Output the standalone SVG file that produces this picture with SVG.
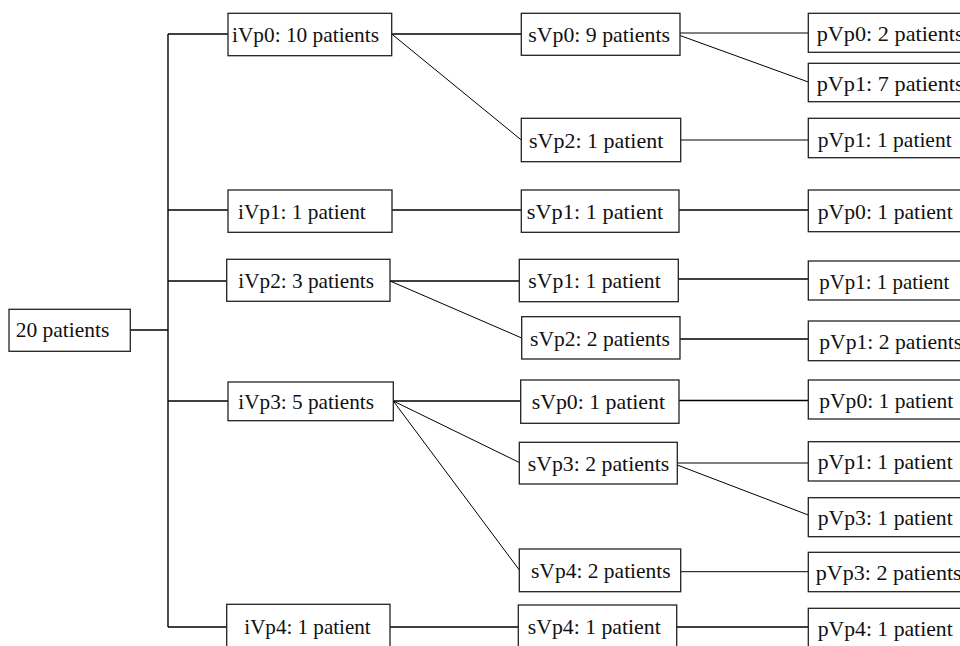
<svg xmlns="http://www.w3.org/2000/svg" width="960" height="646" viewBox="0 0 960 646">
<style>
.box{fill:#fff;stroke:#222;stroke-width:1.3}
.t{font-family:"Liberation Serif","Times New Roman",serif;font-size:22px;fill:#111}
#connectors line{stroke:#000;stroke-width:1.4;fill:none}
#connectors .d{stroke-width:1}
</style>
<rect width="960" height="646" fill="#fff"/>
<g id="connectors">
<line x1="130.3" y1="330" x2="168" y2="330"/>
<line x1="168" y1="34" x2="168" y2="627"/>
<line x1="168" y1="34" x2="228" y2="34"/>
<line x1="168" y1="210" x2="228" y2="210"/>
<line x1="168" y1="281" x2="226.7" y2="281"/>
<line x1="168" y1="401" x2="228" y2="401"/>
<line x1="168" y1="627" x2="226.7" y2="627"/>
<line x1="391.7" y1="34" x2="521.3" y2="34"/>
<line class="d" x1="391.7" y1="34" x2="521.3" y2="140"/>
<line x1="392" y1="210" x2="521.3" y2="210"/>
<line x1="390" y1="281" x2="519.3" y2="281"/>
<line class="d" x1="390" y1="281" x2="521.7" y2="338"/>
<line x1="393.3" y1="401" x2="520.7" y2="401"/>
<line class="d" x1="393.3" y1="401" x2="519.3" y2="462.5"/>
<line class="d" x1="393.3" y1="401" x2="519.3" y2="570"/>
<line x1="390" y1="627" x2="518.3" y2="627"/>
<line class="d" x1="680" y1="33" x2="808.3" y2="33"/>
<line class="d" x1="680" y1="35.5" x2="808.3" y2="82"/>
<line class="d" x1="680.7" y1="140" x2="808.3" y2="140"/>
<line x1="679" y1="210" x2="808.3" y2="210"/>
<line x1="678.3" y1="279" x2="808.3" y2="279"/>
<line x1="678.3" y1="339" x2="808.3" y2="339"/>
<line x1="679" y1="400.5" x2="808.3" y2="400.5"/>
<line class="d" x1="677.3" y1="463" x2="808.3" y2="463"/>
<line class="d" x1="677.3" y1="465" x2="808.3" y2="515"/>
<line class="d" x1="680.7" y1="571.7" x2="808.3" y2="571.7"/>
<line x1="676.7" y1="627" x2="808.3" y2="627"/>
</g>
<g id="root"><rect class="box" x="9" y="309.3" width="121.3" height="42"/><text class="t" x="15.7" y="337" textLength="93.7" lengthAdjust="spacingAndGlyphs">20 patients</text></g>
<g id="iVp0"><rect class="box" x="228" y="13.3" width="163.7" height="42.4"/><text class="t" x="232" y="42" textLength="147" lengthAdjust="spacingAndGlyphs">iVp0: 10 patients</text></g>
<g id="iVp1"><rect class="box" x="228" y="190" width="164" height="42.3"/><text class="t" x="238" y="218.5" textLength="127.7" lengthAdjust="spacingAndGlyphs">iVp1: 1 patient</text></g>
<g id="iVp2"><rect class="box" x="226.7" y="259.3" width="163.3" height="42"/><text class="t" x="238.3" y="288" textLength="135.7" lengthAdjust="spacingAndGlyphs">iVp2: 3 patients</text></g>
<g id="iVp3"><rect class="box" x="228" y="382" width="165.3" height="38.7"/><text class="t" x="238.3" y="409" textLength="135.7" lengthAdjust="spacingAndGlyphs">iVp3: 5 patients</text></g>
<g id="iVp4"><rect class="box" x="226.7" y="604.3" width="163.3" height="44"/><text class="t" x="244.3" y="634" textLength="126.4" lengthAdjust="spacingAndGlyphs">iVp4: 1 patient</text></g>
<g id="sVp0a"><rect class="box" x="521.3" y="13.3" width="158.7" height="42"/><text class="t" x="528.3" y="42" textLength="141.7" lengthAdjust="spacingAndGlyphs">sVp0: 9 patients</text></g>
<g id="sVp2a"><rect class="box" x="521.3" y="118.3" width="159.4" height="43.4"/><text class="t" x="529" y="147.5" textLength="134.3" lengthAdjust="spacingAndGlyphs">sVp2: 1 patient</text></g>
<g id="sVp1a"><rect class="box" x="521.3" y="190" width="157.7" height="42.3"/><text class="t" x="526.7" y="218.5" textLength="136.6" lengthAdjust="spacingAndGlyphs">sVp1: 1 patient</text></g>
<g id="sVp1b"><rect class="box" x="519.3" y="259.3" width="159" height="42.4"/><text class="t" x="528.3" y="288" textLength="132.4" lengthAdjust="spacingAndGlyphs">sVp1: 1 patient</text></g>
<g id="sVp2b"><rect class="box" x="521.7" y="316.7" width="158.3" height="42.3"/><text class="t" x="530" y="345.5" textLength="140" lengthAdjust="spacingAndGlyphs">sVp2: 2 patients</text></g>
<g id="sVp0b"><rect class="box" x="520.7" y="380" width="158.3" height="43.3"/><text class="t" x="531.7" y="409" textLength="133.3" lengthAdjust="spacingAndGlyphs">sVp0: 1 patient</text></g>
<g id="sVp3"><rect class="box" x="519.3" y="442.3" width="158" height="41.7"/><text class="t" x="527.7" y="470.5" textLength="141.6" lengthAdjust="spacingAndGlyphs">sVp3: 2 patients</text></g>
<g id="sVp4a"><rect class="box" x="519.3" y="549" width="161.4" height="42.7"/><text class="t" x="531" y="578" textLength="139.7" lengthAdjust="spacingAndGlyphs">sVp4: 2 patients</text></g>
<g id="sVp4b"><rect class="box" x="518.3" y="605" width="158.4" height="44"/><text class="t" x="527.7" y="633.5" textLength="133" lengthAdjust="spacingAndGlyphs">sVp4: 1 patient</text></g>
<g id="pVp0a"><rect class="box" x="808.3" y="13.3" width="170" height="39"/><text class="t" x="816.7" y="41" textLength="147" lengthAdjust="spacingAndGlyphs">pVp0: 2 patients</text></g>
<g id="pVp1a"><rect class="box" x="808.3" y="63.3" width="170" height="38.4"/><text class="t" x="816.7" y="90.5" textLength="147" lengthAdjust="spacingAndGlyphs">pVp1: 7 patients</text></g>
<g id="pVp1b"><rect class="box" x="808.3" y="118.3" width="170" height="39.4"/><text class="t" x="817.7" y="146.5" textLength="134" lengthAdjust="spacingAndGlyphs">pVp1: 1 patient</text></g>
<g id="pVp0b"><rect class="box" x="808.3" y="190" width="170" height="41.7"/><text class="t" x="817.7" y="218.5" textLength="135" lengthAdjust="spacingAndGlyphs">pVp0: 1 patient</text></g>
<g id="pVp1c"><rect class="box" x="808.3" y="261" width="170" height="39"/><text class="t" x="819.3" y="288.5" textLength="130" lengthAdjust="spacingAndGlyphs">pVp1: 1 patient</text></g>
<g id="pVp1d"><rect class="box" x="808.3" y="321" width="170" height="39.7"/><text class="t" x="819.3" y="348.5" textLength="143" lengthAdjust="spacingAndGlyphs">pVp1: 2 patients</text></g>
<g id="pVp0c"><rect class="box" x="808.3" y="380" width="170" height="39"/><text class="t" x="819.3" y="407.5" textLength="134" lengthAdjust="spacingAndGlyphs">pVp0: 1 patient</text></g>
<g id="pVp1e"><rect class="box" x="808.3" y="441.7" width="170" height="39.3"/><text class="t" x="817.7" y="469" textLength="135" lengthAdjust="spacingAndGlyphs">pVp1: 1 patient</text></g>
<g id="pVp3a"><rect class="box" x="808.3" y="497.7" width="170" height="39"/><text class="t" x="817.7" y="525" textLength="135" lengthAdjust="spacingAndGlyphs">pVp3: 1 patient</text></g>
<g id="pVp3b"><rect class="box" x="808.3" y="552.3" width="170" height="39.4"/><text class="t" x="815.7" y="580" textLength="146" lengthAdjust="spacingAndGlyphs">pVp3: 2 patients</text></g>
<g id="pVp4"><rect class="box" x="808.3" y="608.3" width="170" height="42"/><text class="t" x="817.7" y="636" textLength="135" lengthAdjust="spacingAndGlyphs">pVp4: 1 patient</text></g>
</svg>
